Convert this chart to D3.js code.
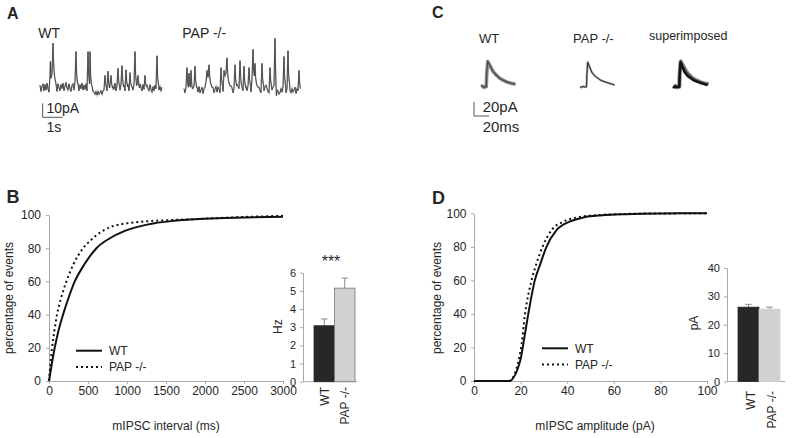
<!DOCTYPE html>
<html><head><meta charset="utf-8">
<script src="https://cdn.jsdelivr.net/npm/d3@7"></script>
<style>
body{margin:0;background:#fff}
svg{display:block}
text{font-family:"Liberation Sans",Arial,sans-serif;fill:#262626}
</style>
</head><body>
<svg id="c" width="794" height="438"></svg>
<script>
// ---------------- DATA ----------------
// Panel B: cumulative distribution of mIPSC intervals [ms, %]
const intervalWT = [[0,0],[35,10],[73,20],[120,30],[180,40],[250,50],[330,60],[450,70],[608,80],[780,86],[950,90],[1150,93],[1350,95],[1600,96.5],[2000,97.8],[2500,98.5],[3000,99]];
const intervalPAP = [[0,0],[18,10],[39,20],[68,30],[103,40],[155,50],[223,60],[310,70],[437,80],[540,85],[673,90],[800,93],[1000,95],[1250,96.2],[1600,97],[2000,97.8],[2500,98.8],[3000,99.5]];
const intervalTicks = [0,500,1000,1500,2000,2500,3000];
const percentTicks = [0,20,40,60,80,100];

// Panel B inset: frequency (Hz)
const groups = ["WT","PAP -/-"];
const freqMean = [3.08, 5.15];
const freqErr = [0.37, 0.55];
const freqTicks = [0,1,2,3,4,5,6];

// Panel D: cumulative distribution of mIPSC amplitudes [pA, %]
const ampWT = [[0,0],[15,0],[20,13],[21.5,25],[23.3,40],[26.1,60],[28.5,70],[31.1,80],[35.4,90],[41,95],[47,97.5],[55,98.8],[65,99.5],[80,99.9],[100,100]];
const ampPAP = [[0,0],[15,0],[20,18],[21.9,40],[24.7,60],[26.8,70],[29.4,80],[33.3,90],[38.3,95],[44,97.5],[52,98.8],[62,99.5],[80,99.9],[100,100]];
const ampTicks = [0,20,40,60,80,100];

// Panel D inset: amplitude (pA)
const ampMean = [26.2, 25.5];
const ampErr = [1.0, 0.7];
const ampBarTicks = [0,10,20,30,40];

// Panel A: raw traces, baseline noise sampled every 0.05 s (pA) + events (s, pA)
const sampleStep = 0.05;
const noiseWT = [2,-2.5,1,3,-2,2.5,-1.5,3.5,-0.5,-3,
 2,3,-2,1,4,-1.5,2,-2.5,3,0.5,
 -2,2.5,-0.5,3.5,-2,1.5,4,0,-1.5,3,
 -0.5,-2.5,2,3,-1.5,4.5,1,-1,3,-2,
 2.5,-0.5,3.5,-1.5,2,-1,3,-2,2.5,0,
 3,-1.5,1.5,-2.5,-3,-4.5,-2.5,-5,-2.5,-4.5,
 -3,-2,-4.5,-2,-1.5,1,2,-2,2,-0.5,
 2.5,-1.5,3,1,-1,3.5,-2,2,0,3,
 -1.5,2.5,4,-1,2,-2,3,0,2.5,-2,
 -0.5,3,1,-1.5,2.5,4,-1,2,-2.5,1,
 3,0.5,-2,2.5,-1,3.5,-1.5,2,-0.5,-2,
 2.5,-1,-3,1,-2,2,-0.5,-2.5,2,-1.5,
 1,-2,0.5];
const eventsWT = [
 [[0.5,9],[0.52,19],[0.55,7],[0.6,10],[0.63,22],[0.65,32],[0.67,21],[0.7,13],[0.74,7],[0.8,3]],
 [[1.8,26],[1.83,10],[1.88,3]],
 [[2.4,26],[2.43,10],[2.48,3]],
 [[2.5,26],[2.53,9],[2.58,2]],
 [[3.25,9],[3.28,3],[3.33,0]],
 [[3.4,12],[3.43,4],[3.48,0]],
 [[3.55,9],[3.58,3],[3.63,0]],
 [[3.9,14],[3.93,5],[3.98,1]],
 [[4.1,16],[4.13,6],[4.18,1]],
 [[4.3,13],[4.33,5],[4.38,1]],
 [[4.5,11],[4.53,4],[4.58,1]],
 [[4.75,26],[4.78,9],[4.83,2]],
 [[4.9,9],[4.93,3],[4.98,0]],
 [[5.25,9],[5.28,3],[5.33,1]],
 [[5.85,23],[5.88,8],[5.93,2]]
];
const noisePAP = [1,-2,2,-1.5,2.5,-0.5,-2.5,2,-2,1,
 3,-1,-2,2,-1.5,2.5,-2,0,2,-2.5,
 1,2,3,4,2.5,-0.5,-2,1,-1.5,2,
 -2,0.5,2.5,-1.5,2,0.5,-2,3,1.5,-1,
 4,3,1.5,0,-1.5,2.5,-0.5,3,1.5,-2,
 1,1.5,3.5,4,2.5,1,-1,-1.5,2,-0.5,
 -2,1,2.5,-0.5,3,4,1.5,-1.5,0,2,
 -2,1,-0.5,2.5,-1.5,2,-0.5,-2,1,2,
 -0.5,2.5,3.5,1,-1,-2,1,-2.5,0,2,
 3,0.5,-1.5,2,-0.5,-3,-2,1,-1.5,2,
 2.5,-0.5,-2,1,3,1.5,-0.5,-2,1,-1.5,
 0,2,-2.5,1,-0.5,-2,1.5];
const eventsPAP = [
 [[0.15,16],[0.18,6],[0.22,2]],
 [[0.25,12],[0.28,5],[0.32,2]],
 [[0.35,14],[0.38,5],[0.42,1]],
 [[0.55,17],[0.58,7],[0.63,2]],
 [[1.1,6],[1.15,14],[1.2,9],[1.25,18],[1.28,10],[1.33,5],[1.4,2]],
 [[1.85,16],[1.88,7],[1.93,3]],
 [[1.98,8],[2.0,14],[2.05,10],[2.1,12],[2.15,23],[2.18,12],[2.23,6],[2.3,3]],
 [[2.55,18],[2.58,8],[2.63,3]],
 [[2.8,21],[2.83,9],[2.88,3]],
 [[3.0,17],[3.03,7],[3.08,2]],
 [[3.25,16],[3.28,7],[3.33,3]],
 [[3.4,8],[3.45,29],[3.48,14],[3.52,10],[3.55,19],[3.58,9],[3.63,4],[3.7,2]],
 [[3.9,19],[3.93,8],[3.98,3]],
 [[4.3,16],[4.33,7],[4.38,2]],
 [[4.55,37],[4.58,13],[4.62,-4],[4.66,0]],
 [[5.0,24],[5.03,9],[5.08,3]],
 [[5.2,28],[5.23,11],[5.28,4]],
 [[5.75,14],[5.78,5],[5.82,1]]
];

// Panel C: averaged mIPSC traces [ms, pA]
const avgWT = [[0,0],[2,1],[4,-1],[6,0.5],[7,0],[7.6,18],[9,36],[12,30],[16,22],[20,17],[25,12],[30,9],[35,6.5],[40,5],[46,3.5]];
const avgPAP = [[0,0],[2,-1],[4,0.5],[6,-0.5],[8.7,0],[9.2,18],[10.3,35],[13,28],[15.6,21],[20,15],[24,12],[28,9],[33,7],[40,4.5],[46,2.5]];

// ---------------- DRAW ----------------
const svg = d3.select("#c");
const axisCol = "#a9a9a9";

function styleAxis(g, fs){
  g.selectAll("path.domain").attr("stroke",axisCol);
  g.selectAll(".tick line").attr("stroke",axisCol);
  g.selectAll(".tick text").attr("fill","#333").style("font-size",(fs||12)+"px").style("font-family","'Liberation Sans',Arial,sans-serif");
}

function panelLetter(t,x,y,size){
  svg.append("text").attr("x",x).attr("y",y).text(t).style("font-size",size+"px").style("font-weight","bold").attr("fill","#111");
}

// ---- Panel A ----
panelLetter("A",7,19,16);
const xA = d3.scaleLinear().domain([0,1]).range([0,20]);
const yA = d3.scaleLinear().domain([0,10]).range([0,-14]);
function tracePoints(noise, events){
  const pts = noise.map((v,i)=>[i*sampleStep, v]);
  const ranges = events.map(e=>[e[0][0], e[e.length-1][0]]);
  const kept = pts.filter(p=>!ranges.some(r=>p[0]>=r[0]-1e-6 && p[0]<=r[1]+1e-6));
  return kept.concat(...events).sort((a,b)=>a[0]-b[0]);
}
const lineA = d3.line().x(d=>xA(d[0])).y(d=>yA(d[1]));
[[noiseWT,eventsWT,40,88,"WT"],[noisePAP,eventsPAP,184,90,"PAP -/-"]].forEach(([n,e,tx,ty,lab])=>{
  const g = svg.append("g").attr("transform",`translate(${tx},${ty})`);
  const pts = tracePoints(n,e);
  g.append("path").attr("d",lineA(pts)).attr("fill","none").attr("stroke","#b4b4b4").attr("stroke-width",1.5);
  g.append("path").attr("d",lineA(pts)).attr("fill","none").attr("stroke","#2e2e2e").attr("stroke-width",0.75);
  svg.append("text").attr("x",tx-1.7).attr("y",38.3).text(lab).style("font-size","14px");
});
{
  const g = svg.append("g").attr("transform","translate(42.7,117.3)");
  g.append("path").attr("d",`M${xA(0)},${yA(10)}V${yA(0)}H${xA(1)}`).attr("fill","none").attr("stroke","#555").attr("stroke-width",1);
  svg.append("text").attr("x",46.5).attr("y",112.7).text("10pA").style("font-size","14px");
  svg.append("text").attr("x",46.5).attr("y",131.7).text("1s").style("font-size","14px");
}

// ---- Panel C ----
panelLetter("C",432,18.3,16);
const xC = d3.scaleLinear().domain([0,20]).range([0,15]);
const yC = d3.scaleLinear().domain([0,20]).range([0,-14]);
const lineC = d3.line().x(d=>xC(d[0])).y(d=>yC(d[1]));
function avgTrace(data,tx,ty,outerW,outerC,innerW,innerC){
  const g = svg.append("g").attr("transform",`translate(${tx},${ty})`);
  g.append("path").attr("d",lineC(data)).attr("fill","none").attr("stroke",outerC).attr("stroke-width",outerW).attr("stroke-linejoin","round");
  g.append("path").attr("d",lineC(data)).attr("fill","none").attr("stroke",innerC).attr("stroke-width",innerW);
}
avgTrace(avgWT,481,86.7,3.6,"#8c8c8c",1.2,"#4a4a4a");
avgTrace(avgPAP,580,86.7,2.2,"#9a9a9a",1,"#333");
avgTrace(avgWT,674,86.7,4.2,"#8a8a8a",1.4,"#444");
avgTrace(avgPAP,672.8,86.7,2.6,"#1e1e1e",1.2,"#111");
svg.append("text").attr("x",479).attr("y",42.7).text("WT").style("font-size","13px");
svg.append("text").attr("x",573).attr("y",42.7).text("PAP -/-").style("font-size","13px");
svg.append("text").attr("x",649).attr("y",39.7).text("superimposed").style("font-size","12.5px");
{
  const g = svg.append("g").attr("transform","translate(474,116)");
  g.append("path").attr("d",`M${xC(0)},${yC(20)}V${yC(0)}H${xC(20)}`).attr("fill","none").attr("stroke","#555").attr("stroke-width",1);
  svg.append("text").attr("x",482.7).attr("y",111.7).text("20pA").style("font-size","15px");
  svg.append("text").attr("x",482.7).attr("y",131.7).text("20ms").style("font-size","15px");
}

// ---- CDF panel helper ----
function cdfPanel(o){
  const x = d3.scaleLinear().domain(o.xDomain).range(o.xRange);
  const y = d3.scaleLinear().domain([0,100]).range(o.yRange);
  const gx = svg.append("g").attr("transform",`translate(0,${o.yRange[0]})`)
    .call(d3.axisBottom(x).tickValues(o.xTicks).tickSize(3).tickSizeOuter(0).tickPadding(2).tickFormat(d3.format("d")));
  styleAxis(gx);
  const gy = svg.append("g").attr("transform",`translate(${o.xRange[0]},0)`)
    .call(d3.axisLeft(y).tickValues(percentTicks).tickSize(3).tickSizeOuter(0).tickPadding(o.yPad));
  styleAxis(gy);
  const line = d3.line().x(d=>x(d[0])).y(d=>y(d[1])).curve(d3.curveMonotoneX);
  svg.append("path").attr("d",line(o.wt)).attr("fill","none").attr("stroke","#111").attr("stroke-width",2);
  svg.append("path").attr("d",line(o.pap)).attr("fill","none").attr("stroke","#111").attr("stroke-width",2).attr("stroke-dasharray","2,3");
  svg.append("text").attr("transform",`translate(${o.yTitleX},298) rotate(-90)`).attr("text-anchor","middle").text("percentage of events").style("font-size","12px");
  svg.append("text").attr("x",o.xTitleX).attr("y",430).attr("text-anchor","middle").text(o.xTitle).style("font-size","12px");
  const L = o.legend;
  svg.append("line").attr("x1",L.x).attr("x2",L.x+26).attr("y1",L.y).attr("y2",L.y).attr("stroke","#111").attr("stroke-width",2);
  svg.append("line").attr("x1",L.x).attr("x2",L.x+26).attr("y1",L.y+16.3).attr("y2",L.y+16.3).attr("stroke","#111").attr("stroke-width",2).attr("stroke-dasharray","2,3");
  svg.append("text").attr("x",L.x+33).attr("y",L.y+4.3).text(groups[0]).style("font-size","12px");
  svg.append("text").attr("x",L.x+33).attr("y",L.y+20.3).text(groups[1]).style("font-size","12px");
}

function barInset(o){
  const y = d3.scaleLinear().domain(o.domain).range(o.yRange);
  const xb = d3.scaleBand().domain(groups).range(o.barRange).padding(0);
  const gy = svg.append("g").attr("transform",`translate(${o.axisX},0)`)
    .call(d3.axisLeft(y).tickValues(o.ticks).tickSize(3).tickSizeOuter(0).tickPadding(o.yPad).tickFormat(d3.format("d")));
  styleAxis(gy, 11);
  svg.append("line").attr("x1",o.axisX).attr("x2",o.baseEnd).attr("y1",o.yRange[0]).attr("y2",o.yRange[0]).attr("stroke",axisCol);
  groups.forEach((gname,i)=>{
    const bx = xb(gname), bw = xb.bandwidth();
    svg.append("line").attr("x1",bx+bw/2).attr("x2",bx+bw/2).attr("y1",y(o.mean[i])).attr("y2",y(o.mean[i]+o.err[i])).attr("stroke","#8a8a8a");
    svg.append("line").attr("x1",bx+bw/2-3.3).attr("x2",bx+bw/2+3.3).attr("y1",y(o.mean[i]+o.err[i])).attr("y2",y(o.mean[i]+o.err[i])).attr("stroke","#8a8a8a");
    svg.append("rect").attr("x",bx).attr("width",bw).attr("y",y(o.mean[i])).attr("height",y(0)-y(o.mean[i]))
      .attr("fill",i===0?"#272727":"#d0d1d3").attr("stroke",i===0?"#272727":o.papStroke).attr("stroke-width",0.8);
    svg.append("text").attr("transform",`translate(${bx+bw/2+o.labShift},${o.labY}) rotate(-90)`).attr("text-anchor","end").attr("dy","0.36em").text(gname).style("font-size","12px");
  });
  svg.append("text").attr("transform",`translate(${o.unitX},${o.unitY}) rotate(-90)`).attr("text-anchor","middle").text(o.unit).style("font-size","12px");
}

// ---- Panel B ----
panelLetter("B",6.5,203.3,18);
cdfPanel({xDomain:[0,3000],xRange:[49,283],yRange:[381,215],xTicks:intervalTicks,yPad:5,
  wt:intervalWT,pap:intervalPAP,yTitleX:12.5,xTitleX:166,xTitle:"mIPSC interval (ms)",legend:{x:76,y:350.7}});
barInset({domain:[0,6],yRange:[381.7,272.7],ticks:freqTicks,axisX:303,baseEnd:357,barRange:[314,355],
  mean:freqMean,err:freqErr,yPad:4,papStroke:"#777",labShift:0,labY:387,unit:"Hz",unitX:281.5,unitY:326.7});
svg.append("text").attr("x",331).attr("y",267).attr("text-anchor","middle").text("***").style("font-size","16px");

// ---- Panel D ----
panelLetter("D",432,204,18);
cdfPanel({xDomain:[0,100],xRange:[474,707],yRange:[381,213.3],xTicks:ampTicks,yPad:4.5,
  wt:ampWT,pap:ampPAP,yTitleX:440.8,xTitleX:595,xTitle:"mIPSC amplitude (pA)",legend:{x:542,y:348.3}});
barInset({domain:[0,40],yRange:[381.5,268],ticks:ampBarTicks,axisX:727,baseEnd:785,barRange:[738,780],
  mean:ampMean,err:ampErr,yPad:4,papStroke:"#d0d1d3",labShift:2,labY:391,unit:"pA",unitX:697.5,unitY:323});
</script>
</body></html>
